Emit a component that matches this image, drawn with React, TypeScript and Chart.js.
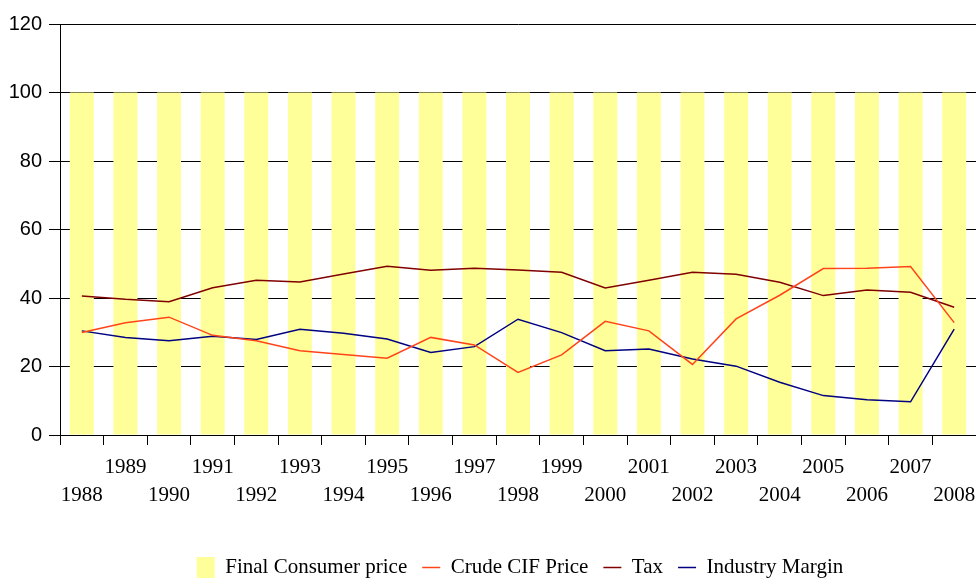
import React, { useEffect, useRef } from "react";
import { Chart, registerables } from "chart.js";

Chart.register(...registerables);

const years = [
  "1988", "1989", "1990", "1991", "1992", "1993", "1994", "1995", "1996", "1997", "1998",
  "1999", "2000", "2001", "2002", "2003", "2004", "2005", "2006", "2007", "2008",
];

const finalConsumerPrice = [100, 100, 100, 100, 100, 100, 100, 100, 100, 100, 100, 100, 100, 100, 100, 100, 100, 100, 100, 100, 100];
const crudeCifPrice = [29.9, 32.8, 34.4, 29.1, 27.5, 24.6, 23.5, 22.4, 28.5, 26.3, 18.3, 23.4, 33.2, 30.4, 20.6, 33.9, 40.8, 48.6, 48.7, 49.2, 32.8];
const tax = [40.6, 39.6, 38.9, 43.0, 45.2, 44.7, 47.0, 49.3, 48.1, 48.7, 48.2, 47.5, 42.9, 45.2, 47.5, 46.9, 44.6, 40.7, 42.3, 41.7, 37.3];
const industryMargin = [30.4, 28.5, 27.5, 28.8, 27.9, 30.9, 29.7, 28.0, 24.1, 25.8, 33.8, 29.9, 24.6, 25.1, 22.2, 20.1, 15.4, 11.5, 10.3, 9.7, 30.9];

const yTicks = [0, 20, 40, 60, 80, 100, 120];

const serif = "'Liberation Serif', 'Times New Roman', serif";
const sans = "'Liberation Sans', Arial, sans-serif";

const legendShift = {
  id: "legendShift",
  afterLayout(chart: any) {
    const l = chart.legend;
    if (l) {
      l.left += 32;
      l.right += 32;
      l.top += 9;
      l.bottom += 9;
    }
  },
};

export default function App() {
  const ref = useRef<HTMLCanvasElement | null>(null);

  useEffect(() => {
    if (!ref.current) return;
    const chart = new Chart(ref.current, {
      type: "bar",
      data: {
        labels: years,
        datasets: [
          {
            type: "bar",
            label: "Final Consumer price",
            data: finalConsumerPrice,
            backgroundColor: "#FFFF99",
            borderWidth: 0,
            categoryPercentage: 0.55,
            barPercentage: 1,
            order: 1,
          } as any,
          {
            type: "line",
            label: "Crude CIF Price",
            data: crudeCifPrice,
            borderColor: "#FF4419",
            backgroundColor: "#FF4419",
            borderWidth: 1.5,
            pointRadius: 0,
            tension: 0,
            order: 0,
          },
          {
            type: "line",
            label: "Tax",
            data: tax,
            borderColor: "#800000",
            backgroundColor: "#800000",
            borderWidth: 1.5,
            pointRadius: 0,
            tension: 0,
            order: 0,
          },
          {
            type: "line",
            label: "Industry Margin",
            data: industryMargin,
            borderColor: "#000080",
            backgroundColor: "#000080",
            borderWidth: 1.5,
            pointRadius: 0,
            tension: 0,
            order: 0,
          },
        ],
      },
      options: {
        responsive: false,
        animation: false,
        devicePixelRatio: 1,
        color: "#000",
        layout: { padding: { top: 24, right: 0, left: 0, bottom: 0 } },
        plugins: {
          tooltip: { enabled: false },
          legend: {
            position: "bottom",
            labels: {
              usePointStyle: true,
              pointStyleWidth: 18,
              padding: 15,
              color: "#000",
              font: { family: serif, size: 21 },
              generateLabels: (c: any) =>
                c.data.datasets.map((ds: any, i: number) => ({
                  text: ds.label,
                  fillStyle: ds.type === "bar" ? ds.backgroundColor : ds.borderColor,
                  strokeStyle: ds.type === "bar" ? ds.backgroundColor : ds.borderColor,
                  lineWidth: ds.type === "bar" ? 0 : 1.5,
                  pointStyle: ds.type === "bar" ? "rect" : "line",
                  hidden: false,
                  datasetIndex: i,
                  fontColor: "#000",
                })),
            },
          },
        },
        scales: {
          x: {
            offset: true,
            grid: {
              display: true,
              offset: true,
              drawOnChartArea: false,
              drawTicks: true,
              tickLength: 10,
              color: "#000",
            },
            border: { display: true, color: "#000", width: 1 },
            ticks: {
              autoSkip: false,
              maxRotation: 0,
              minRotation: 0,
              padding: 9,
              color: "#000",
              font: { family: serif, size: 21, lineHeight: 1.31 },
              callback: (_v: any, idx: number) =>
                idx % 2 === 0 ? ["", years[idx]] : [years[idx], ""],
            },
            afterFit: (scale: any) => {
              scale.height = 98;
              scale.paddingLeft = 0;
              scale.paddingRight = 0;
            },
          },
          y: {
            min: 0,
            max: 120,
            grid: {
              color: "#000",
              lineWidth: 1,
              tickLength: 11,
            },
            border: { display: true, color: "#000", width: 1 },
            afterBuildTicks: (scale: any) => {
              scale.ticks = yTicks.map((v) => ({ value: v }));
            },
            ticks: {
              padding: 7,
              color: "#000",
              font: { family: sans, size: 20 },
            },
            afterFit: (scale: any) => {
              scale.width = 60;
            },
          },
        },
      },
      plugins: [legendShift],
    });
    return () => chart.destroy();
  }, []);

  return (
    <div style={{ position: "absolute", left: 0, top: 0, width: 976, height: 579, background: "#fff" }}>
      <canvas ref={ref} width={976} height={579} style={{ width: 976, height: 579, display: "block" }} />
    </div>
  );
}
